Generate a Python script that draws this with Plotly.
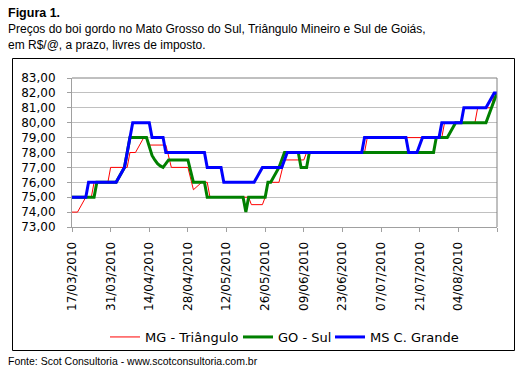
import plotly.graph_objects as go

# ---------------- data ----------------
mg_dates = ["2010-03-17", "2010-03-19", "2010-03-22", "2010-03-24", "2010-03-25", "2010-03-30",
            "2010-03-31", "2010-04-06", "2010-04-07", "2010-04-09", "2010-04-12", "2010-04-13",
            "2010-04-14", "2010-04-20", "2010-04-22", "2010-04-28", "2010-04-30", "2010-05-03",
            "2010-05-05", "2010-05-06", "2010-05-20", "2010-05-21", "2010-05-25", "2010-05-26",
            "2010-05-27", "2010-05-31", "2010-06-02", "2010-06-09", "2010-06-10", "2010-07-01",
            "2010-07-02", "2010-07-29", "2010-07-30", "2010-08-10", "2010-08-11", "2010-08-16",
            "2010-08-17", "2010-08-18"]
mg_values = [74, 74, 75, 75, 76, 76,
             77, 77, 78, 78, 79, 79,
             78.5, 78.5, 77, 77, 75.5, 76,
             76, 75, 75, 74.5, 74.5, 75,
             76, 76, 77.5, 77.5, 78, 78,
             79, 79, 80, 80, 81, 81,
             82, 82]

go_dates = ["2010-03-17", "2010-03-25", "2010-03-26", "2010-04-02", "2010-04-05", "2010-04-06",
            "2010-04-07", "2010-04-13", "2010-04-14", "2010-04-15", "2010-04-16", "2010-04-17",
            "2010-04-18", "2010-04-19", "2010-04-21", "2010-04-28", "2010-04-30", "2010-05-04",
            "2010-05-05", "2010-05-18", "2010-05-19", "2010-05-20", "2010-05-26", "2010-05-27",
            "2010-05-28", "2010-05-31", "2010-06-02", "2010-06-07", "2010-06-08", "2010-06-10",
            "2010-06-11", "2010-07-26", "2010-07-27", "2010-07-31", "2010-08-03", "2010-08-14",
            "2010-08-16", "2010-08-18"]
go_values = [75, 75, 76, 76, 77, 78,
             79, 79, 78.4, 77.8, 77.5, 77.25,
             77.1, 77, 77.5, 77.5, 76, 76,
             75, 75, 74, 75, 75, 76,
             76, 77, 78, 78, 77, 77,
             78, 78, 79, 79, 80, 80,
             81, 82]

ms_dates = ["2010-03-17", "2010-03-22", "2010-03-23", "2010-04-02", "2010-04-05", "2010-04-06",
            "2010-04-07", "2010-04-08", "2010-04-14", "2010-04-15", "2010-04-19", "2010-04-20",
            "2010-05-04", "2010-05-05", "2010-05-10", "2010-05-11", "2010-05-22", "2010-05-25",
            "2010-06-01", "2010-06-03", "2010-06-30", "2010-07-01", "2010-07-16", "2010-07-17",
            "2010-07-20", "2010-07-22", "2010-07-28", "2010-07-29", "2010-08-05", "2010-08-06",
            "2010-08-14", "2010-08-17", "2010-08-18"]
ms_values = [75, 75, 76, 76, 77, 78,
             79, 80, 80, 79, 79, 78,
             78, 77, 77, 76, 76, 77,
             77, 78, 78, 79, 79, 78,
             78, 79, 79, 80, 80, 81,
             81, 82, 82]

series_names = ["MG - Triângulo", "GO - Sul", "MS C. Grande"]

x_tick_dates = ["2010-03-17", "2010-03-31", "2010-04-14", "2010-04-28", "2010-05-12", "2010-05-26",
                "2010-06-09", "2010-06-23", "2010-07-07", "2010-07-21", "2010-08-04", "2010-08-18"]
x_tick_labels = ["17/03/2010", "31/03/2010", "14/04/2010", "28/04/2010", "12/05/2010", "26/05/2010",
                 "09/06/2010", "23/06/2010", "07/07/2010", "21/07/2010", "04/08/2010", ""]
y_tick_values = [73, 74, 75, 76, 77, 78, 79, 80, 81, 82, 83]
y_tick_labels = ["73,00", "74,00", "75,00", "76,00", "77,00", "78,00",
                 "79,00", "80,00", "81,00", "82,00", "83,00"]

title_bold = "Figura 1."
title_line2 = "Preços do boi gordo no Mato Grosso do Sul, Triângulo Mineiro e Sul de Goiás,"
title_line3 = "em R$/@, a prazo, livres de imposto."
source_text = "Fonte: Scot Consultoria - www.scotconsultoria.com.br"

# ---------------- layout helpers ----------------
W, H = 526, 373
L, R, T, B = 72, 29, 78, 146
PW, PH = W - L - R, H - T - B


def px(x):
    return (x - L) / PW


def py(y):
    return (H - B - y) / PH


TICK_FONT = dict(family="DejaVu Sans", size=12, color="#000000")
LEG_FONT = dict(family="DejaVu Sans", size=13, color="#000000")
TEXT_FONT = "Liberation Sans"

fig = go.Figure()
fig.add_trace(go.Scatter(x=mg_dates, y=mg_values, mode="lines", name=series_names[0],
                         line=dict(color="#ff0000", width=1), legend="legend"))
fig.add_trace(go.Scatter(x=go_dates, y=go_values, mode="lines", name=series_names[1],
                         line=dict(color="#008000", width=3), legend="legend2"))
fig.add_trace(go.Scatter(x=ms_dates, y=ms_values, mode="lines", name=series_names[2],
                         line=dict(color="#0000ff", width=3), legend="legend3"))


def leg(x_left):
    return dict(orientation="h", x=px(x_left), xanchor="left", y=py(337), yanchor="middle",
                font=LEG_FONT, bgcolor="rgba(0,0,0,0)", borderwidth=0, itemwidth=30)


fig.update_layout(
    width=W, height=H,
    margin=dict(l=L, r=R, t=T, b=B, pad=0),
    paper_bgcolor="#ffffff", plot_bgcolor="#ffffff",
    showlegend=True,
    legend=leg(105), legend2=leg(238), legend3=leg(330),
    xaxis=dict(type="date", range=["2010-03-17", "2010-08-18"],
               tickmode="array", tickvals=x_tick_dates, ticktext=x_tick_labels,
               tickangle=-90, tickfont=TICK_FONT, ticklabelstandoff=5,
               ticks="outside", ticklen=4, tickcolor="#a0a0a0",
               showline=True, linecolor="#a0a0a0", linewidth=1,
               showgrid=False, zeroline=False, fixedrange=True),
    yaxis=dict(range=[73, 83], tickmode="array", tickvals=y_tick_values, ticktext=y_tick_labels,
               tickfont=TICK_FONT, ticks="outside", ticklen=4, tickcolor="#a0a0a0",
               ticklabelstandoff=9,
               showline=True, linecolor="#a0a0a0", linewidth=1,
               showgrid=True, gridcolor="#c0c0c0", gridwidth=1, zeroline=False, fixedrange=True),
    annotations=[
        dict(text="<b>" + title_bold + "</b>", xref="paper", yref="paper", x=px(6), y=py(13),
             xanchor="left", yanchor="middle", showarrow=False,
             font=dict(family=TEXT_FONT, size=12.5, color="#000000")),
        dict(text=title_line2, xref="paper", yref="paper", x=px(6), y=py(29),
             xanchor="left", yanchor="middle", showarrow=False,
             font=dict(family=TEXT_FONT, size=12, color="#000000")),
        dict(text=title_line3, xref="paper", yref="paper", x=px(6), y=py(45),
             xanchor="left", yanchor="middle", showarrow=False,
             font=dict(family=TEXT_FONT, size=12, color="#000000")),
        dict(text=source_text, xref="paper", yref="paper", x=px(6), y=py(361),
             xanchor="left", yanchor="middle", showarrow=False,
             font=dict(family=TEXT_FONT, size=10.5, color="#000000")),
    ],
    shapes=[
        dict(type="rect", xref="paper", yref="paper", x0=px(12.5), x1=px(514.5), y0=py(350.5), y1=py(58.5),
             line=dict(color="#000000", width=1), fillcolor="rgba(0,0,0,0)", layer="below"),
        dict(type="line", xref="paper", yref="paper", x0=0, x1=1, y0=1, y1=1,
             line=dict(color="#808080", width=1)),
        dict(type="line", xref="paper", yref="paper", x0=1, x1=1, y0=0, y1=1,
             line=dict(color="#808080", width=1)),
    ],
)

fig.write_html("out.html", config={"displayModeBar": False})

# remove the browser's default page margin so the figure sits at the window origin
with open("out.html", "r", encoding="utf-8") as f:
    html = f.read()
html = html.replace("<head>", "<head><style>html,body{margin:0;padding:0;overflow:hidden;}</style>", 1)
with open("out.html", "w", encoding="utf-8") as f:
    f.write(html)
